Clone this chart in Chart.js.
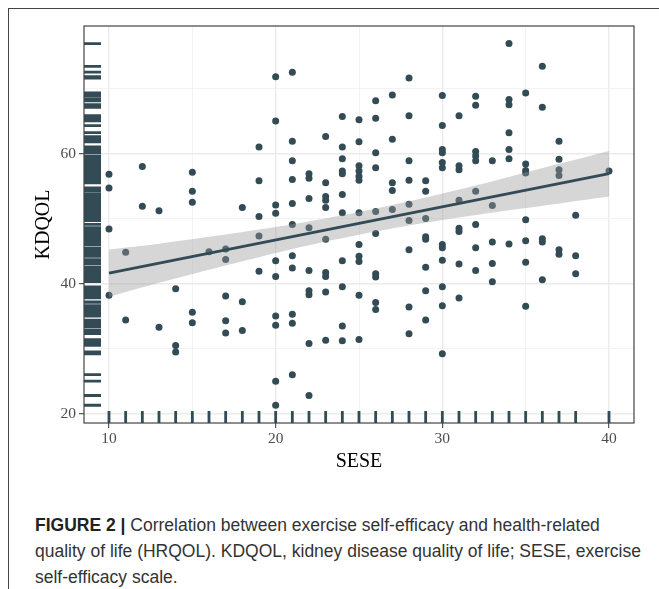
<!DOCTYPE html>
<html>
<head>
<meta charset="utf-8">
<title>SESE vs KDQOL</title>
<script src="https://cdn.jsdelivr.net/npm/chart.js@4.4.0/dist/chart.umd.min.js"></script>
<style>
  html, body { margin: 0; padding: 0; background: #fff; }
  body { width: 659px; height: 589px; position: relative; overflow: hidden; }
  .frame { position: absolute; left: 8px; top: 8px; width: 700px; height: 700px;
           border-left: 1px solid #444; border-top: 1px solid #444; }
  #chart { position: absolute; left: 0; top: 0; }
  .caption { position: absolute; left: 35px; top: 512px; width: 620px;
             font-family: "Liberation Sans", Arial, sans-serif; font-size: 17.5px;
             line-height: 26px; color: #333; white-space: nowrap; }
  .caption b { color: #222; }
</style>
</head>
<body>
<div class="frame"></div>
<canvas id="chart" width="659" height="480"></canvas>
<div class="caption"><b>FIGURE 2 |</b> Correlation between exercise self-efficacy and health-related<br>quality of life (HRQOL). KDQOL, kidney disease quality of life; SESE, exercise<br>self-efficacy scale.</div>
<script>
// one entry per patient: SESE score and KDQOL score (same order)
const seseScores = [
  10, 10, 10, 10,
  11, 11,
  12, 12,
  13, 13,
  14, 14, 14,
  15, 15, 15, 15, 15,
  16,
  17, 17, 17, 17, 17,
  18, 18, 18,
  19, 19, 19, 19, 19,
  20, 20, 20, 20, 20, 20, 20, 20, 20, 20,
  21, 21, 21, 21, 21, 21, 21, 21, 21, 21, 21,
  22, 22, 22, 22, 22, 22, 22, 22, 22,
  23, 23, 23, 23, 23, 23, 23, 23, 23, 23,
  24, 24, 24, 24, 24, 24, 24, 24, 24, 24, 24,
  25, 25, 25, 25, 25, 25, 25, 25, 25, 25, 25, 25,
  26, 26, 26, 26, 26, 26, 26, 26, 26, 26,
  27, 27, 27, 27, 27,
  28, 28, 28, 28, 28, 28, 28, 28, 28,
  29, 29, 29, 29, 29, 29, 29, 29,
  30, 30, 30, 30, 30, 30, 30, 30, 30, 30, 30, 30,
  31, 31, 31, 31, 31, 31, 31, 31,
  32, 32, 32, 32, 32, 32, 32, 32, 32,
  33, 33, 33, 33, 33,
  34, 34, 34, 34, 34, 34, 34,
  35, 35, 35, 35, 35, 35, 35, 35,
  36, 36, 36, 36, 36,
  37, 37, 37, 37, 37, 37,
  38, 38, 38,
  40
];
const kdqolScores = [
  56.8, 54.7, 48.4, 38.2,
  44.8, 34.4,
  58.0, 51.9,
  51.2, 33.3,
  39.2, 30.5, 29.5,
  57.1, 54.2, 52.5, 35.6, 34.0,
  44.9,
  45.3, 43.7, 38.1, 34.3, 32.4,
  51.7, 37.2, 32.8,
  61.0, 55.8, 50.3, 47.3, 41.9,
  71.8, 65.0, 52.1, 50.8, 43.5, 41.1, 35.0, 33.6, 25.0, 21.3,
  72.5, 61.9, 58.9, 56.0, 52.3, 49.1, 44.3, 42.4, 35.3, 33.9, 26.0,
  56.9, 56.2, 53.1, 48.6, 42.0, 38.9, 38.3, 30.8, 22.8,
  62.6, 55.5, 53.4, 52.8, 51.7, 46.8, 41.7, 41.1, 38.7, 31.3,
  65.7, 61.0, 59.2, 57.3, 56.9, 53.7, 50.9, 43.5, 39.5, 33.5, 31.2,
  65.2, 61.8, 58.1, 57.3, 56.5, 55.9, 50.9, 46.0, 44.2, 43.4, 38.2, 31.4,
  68.1, 65.4, 60.1, 57.8, 51.1, 47.7, 41.5, 41.0, 37.1, 36.0,
  69.0, 62.2, 55.5, 54.3, 51.4,
  71.6, 65.8, 58.9, 55.9, 52.2, 49.7, 45.2, 36.4, 32.3,
  55.8, 54.2, 50.0, 47.2, 46.8, 42.5, 38.9, 34.4,
  68.9, 64.3, 60.6, 60.1, 58.6, 57.8, 46.0, 45.5, 43.6, 39.5, 36.6, 29.2,
  65.8, 58.1, 57.5, 52.8, 48.5, 48.0, 43.0, 37.8,
  68.8, 67.4, 60.3, 59.6, 58.9, 54.2, 49.1, 45.5, 42.0,
  58.9, 52.0, 46.4, 43.1, 40.3,
  76.9, 68.3, 67.5, 63.2, 60.6, 59.2, 46.1,
  69.3, 58.4, 57.4, 57.0, 49.8, 46.6, 43.3, 36.5,
  73.4, 67.1, 46.9, 46.4, 40.6,
  61.9, 59.1, 57.5, 56.6, 45.2, 44.5,
  50.5, 44.3, 41.5,
  57.3
];

// linear fit and its confidence band
const fitX = [10, 40];
const fitY = [41.6, 56.9];
const bandX = [10, 13, 16, 19, 22, 25, 28, 31, 34, 37, 40];
const bandLower = [37.95, 40.12, 42.13, 44.06, 45.88, 47.51, 48.92, 50.16, 51.28, 52.33, 53.4];
const bandUpper = [45.25, 46.14, 47.19, 48.32, 49.56, 50.99, 52.64, 54.46, 56.4, 58.41, 60.4];

// axes
const xTicks = [10, 15, 20, 25, 30, 35, 40];
const xTickLabels = ['10', '', '20', '', '30', '', '40'];
const yTicks = [20, 30, 40, 50, 60, 70];
const yTickLabels = ['20', '', '40', '', '60', ''];

const ink = '#334b55';
const serif = 'Liberation Serif, Times New Roman, serif';

const toXY = (xs, ys) => xs.map((x, i) => ({ x: x, y: ys[i] }));

// rug marks along the left and bottom edges + the panel border
const rugPlugin = {
  id: 'rug',
  beforeDatasetsDraw(chart) {
    const ctx = chart.ctx;
    const a = chart.chartArea;
    const xs = chart.scales.x, ys = chart.scales.y;
    ctx.save();
    ctx.strokeStyle = ink;
    ctx.lineWidth = 2.8;
    ctx.beginPath();
    kdqolScores.forEach(v => {
      const py = ys.getPixelForValue(v);
      ctx.moveTo(a.left, py);
      ctx.lineTo(a.left + 17, py);
    });
    ctx.stroke();
    ctx.lineWidth = 2.8;
    ctx.beginPath();
    seseScores.forEach(v => {
      const px = xs.getPixelForValue(v);
      ctx.moveTo(px, a.bottom);
      ctx.lineTo(px, a.bottom - 12);
    });
    ctx.stroke();
    ctx.restore();
  },
  afterDraw(chart) {
    const ctx = chart.ctx;
    const a = chart.chartArea;
    ctx.save();
    ctx.strokeStyle = '#444';
    ctx.lineWidth = 1.2;
    ctx.strokeRect(a.left, a.top, a.right - a.left, a.bottom - a.top);
    ctx.restore();
  }
};

function gridOpts(isMajor) {
  return {
    color: c => isMajor(c.tick.value) ? '#ebebeb' : '#f2f2f2',
    lineWidth: c => isMajor(c.tick.value) ? 1.4 : 0.9,
    tickColor: c => isMajor(c.tick.value) ? '#333' : 'rgba(0,0,0,0)',
    tickWidth: 1,
    tickLength: 5,
    drawTicks: true
  };
}

new Chart(document.getElementById('chart').getContext('2d'), {
  type: 'scatter',
  data: {
    datasets: [
      {
        type: 'line',
        data: toXY(fitX, fitY),
        borderColor: ink,
        borderWidth: 2.8,
        pointRadius: 0,
        fill: false
      },
      {
        type: 'line',
        data: toXY(bandX, bandUpper),
        borderWidth: 0,
        borderColor: 'rgba(0,0,0,0)',
        backgroundColor: 'rgba(153,153,153,0.4)',
        pointRadius: 0,
        tension: 0.4,
        fill: '+1'
      },
      {
        type: 'line',
        data: toXY(bandX, bandLower),
        borderWidth: 0,
        borderColor: 'rgba(0,0,0,0)',
        pointRadius: 0,
        tension: 0.4,
        fill: false
      },
      {
        data: toXY(seseScores, kdqolScores),
        backgroundColor: ink,
        borderWidth: 0,
        pointRadius: 3.5,
        pointHoverRadius: 3.5
      }
    ]
  },
  options: {
    responsive: false,
    animation: false,
    devicePixelRatio: 1,
    layout: { padding: { left: 0, right: 25, top: 26, bottom: 0 } },
    plugins: {
      legend: { display: false },
      tooltip: { enabled: false }
    },
    scales: {
      x: {
        type: 'linear',
        min: 8.5,
        max: 41.5,
        afterBuildTicks: s => { s.ticks = xTicks.map(v => ({ value: v })); },
        afterFit: s => { s.height = 57; },
        grid: gridOpts(v => v % 10 === 0),
        border: { display: false },
        ticks: {
          callback: (v, i) => xTickLabels[i],
          autoSkip: false,
          maxRotation: 0,
          padding: 2,
          color: '#4d4d4d',
          font: { family: serif, size: 15.5 }
        },
        title: {
          display: true,
          text: 'SESE',
          color: '#000',
          font: { family: serif, size: 20 },
          padding: { top: 0, bottom: 6 }
        }
      },
      y: {
        type: 'linear',
        min: 18.57,
        max: 79.6,
        afterBuildTicks: s => { s.ticks = yTicks.map(v => ({ value: v })); },
        afterFit: s => { s.width = 84; },
        grid: gridOpts(v => v % 20 === 0),
        border: { display: false },
        ticks: {
          callback: (v, i) => yTickLabels[i],
          autoSkip: false,
          padding: 3,
          color: '#4d4d4d',
          font: { family: serif, size: 15.5 }
        },
        title: {
          display: true,
          text: 'KDQOL',
          color: '#000',
          font: { family: serif, size: 20 },
          padding: { top: 32, bottom: 0 }
        }
      }
    }
  },
  plugins: [rugPlugin]
});
</script>
</body>
</html>
